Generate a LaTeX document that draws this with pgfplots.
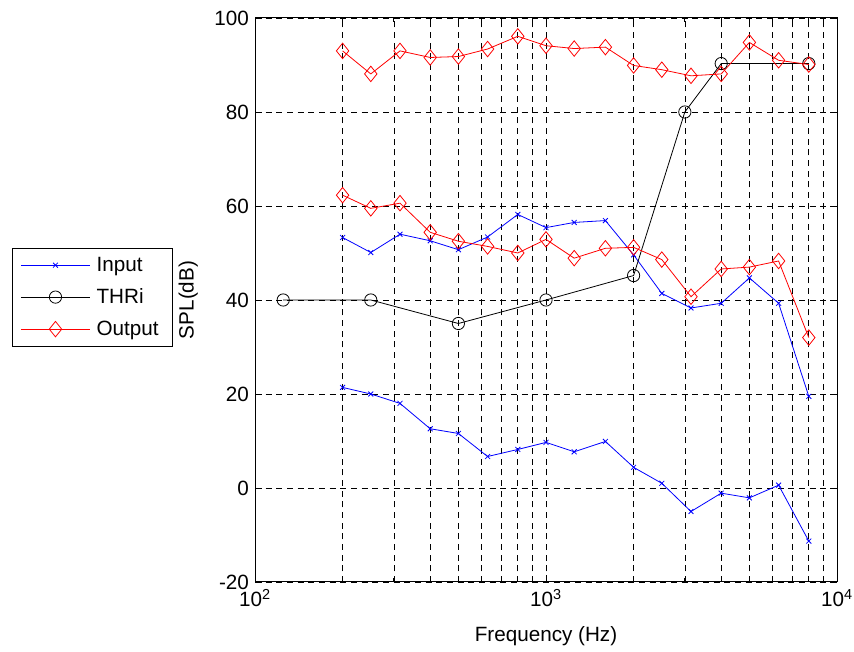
\documentclass[border=0pt]{standalone}
\usepackage{fontspec}
\setmainfont{Liberation Sans}
\usepackage{pgfplots}
\pgfplotsset{compat=1.18}

\definecolor{mblue}{RGB}{0,0,255}
\definecolor{mred}{RGB}{255,0,0}

% third-octave band levels, SPL in dB
\pgfplotstableread{
f     inhi  inlo   outhi  outlo
200   53.3  21.4   93.0   62.3
250   50.1  20.0   88.1   59.5
315   54.0  18.0   93.0   60.6
400   52.6  12.6   91.6   54.4
500   50.7  11.6   91.8   52.5
630   53.4   6.7   93.4   51.4
800   58.2   8.2   96.1   50.0
1000  55.4   9.7   94.1   52.9
1250  56.5   7.7   93.5   48.9
1600  56.9   9.9   93.8   51.0
2000  49.6   4.4   89.9   51.2
2500  41.4   1.0   89.0   48.6
3150  38.3  -5.0   87.7   40.7
4000  39.3  -1.1   88.1   46.6
5000  44.7  -2.1   94.8   47.0
6300  39.3   0.6   91.0   48.3
8000  19.5 -11.3   90.1   32.0
}\bands

% hearing threshold
\pgfplotstableread{
f     thr
125   40.0
250   40.0
500   35.0
1000  40.0
2000  45.2
3000  80.0
4000  90.3
8000  90.3
}\thri

\begin{document}
\begin{tikzpicture}[font=\fontsize{15.5pt}{18pt}\selectfont]
\useasboundingbox (-191.25pt,-52.5pt) rectangle (449.25pt,436.5pt);
\begin{axis}[
  at={(0pt,0pt)}, anchor=south west,
  scale only axis, width=436.5pt, height=423pt,
  xmode=log, xmin=100, xmax=10000, ymin=-20, ymax=100,
  xtick={100,1000,10000},
  xticklabels={{10\textsuperscript{2}},{10\textsuperscript{3}},{10\textsuperscript{4}}},
  minor xtick={200,300,400,500,600,700,800,900,2000,3000,4000,5000,6000,7000,8000,9000},
  ytick={-20,0,20,40,60,80,100},
  /pgf/number format/assume math mode=true,
  xmajorgrids, xminorgrids, ymajorgrids,
  major grid style={black, line width=0.5pt, dash pattern=on 4.5pt off 3.5pt},
  minor grid style={black, line width=0.5pt, dash pattern=on 4.5pt off 3.5pt},
  tick align=inside, tick pos=both,
  major tick length=5pt, minor tick length=3pt,
  every tick/.style={black, line width=0.6pt},
  axis line style={line width=0.75pt},
  xticklabel style={yshift=-2pt},
  yticklabel style={xshift=-1pt},
  xlabel={Frequency (Hz)}, ylabel={SPL(dB)},
  xlabel style={at={(axis description cs:0.5,-0.096)}, anchor=center},
  ylabel style={at={(axis description cs:-0.1145,0.5)}, anchor=center},
  legend style={at={(axis description cs:-0.4175,0.5922)}, anchor=north west,
    draw=black, line width=0.6pt, inner xsep=6pt, inner ysep=4.5pt,
    row sep=7.5pt, font=\fontsize{15.5pt}{18pt}\selectfont,
    nodes={inner xsep=4.5pt}},
  legend cell align=left,
  legend image code/.code={\draw[mark repeat=2, mark phase=2, #1]
    plot coordinates {(0pt,0pt) (26pt,0pt) (52pt,0pt)};},
]
\addplot[mblue, line width=0.6pt, mark=x, mark size=2.6pt, mark options={solid}]
  table[x=f, y=inhi] {\bands};
\addlegendentry{Input}
\addplot[black, line width=0.6pt, mark=o, mark size=4.6pt, mark options={solid}]
  table[x=f, y=thr] {\thri};
\addlegendentry{THRi}
\addplot[mred, line width=0.6pt, mark=diamond, mark size=5.8pt, mark options={solid, xscale=1.07}]
  table[x=f, y=outhi] {\bands};
\addlegendentry{Output}
\addplot[mblue, line width=0.6pt, mark=x, mark size=2.6pt, mark options={solid}, forget plot]
  table[x=f, y=inlo] {\bands};
\addplot[mred, line width=0.6pt, mark=diamond, mark size=5.8pt, mark options={solid, xscale=1.07}, forget plot]
  table[x=f, y=outlo] {\bands};
\end{axis}
\end{tikzpicture}
\end{document}
